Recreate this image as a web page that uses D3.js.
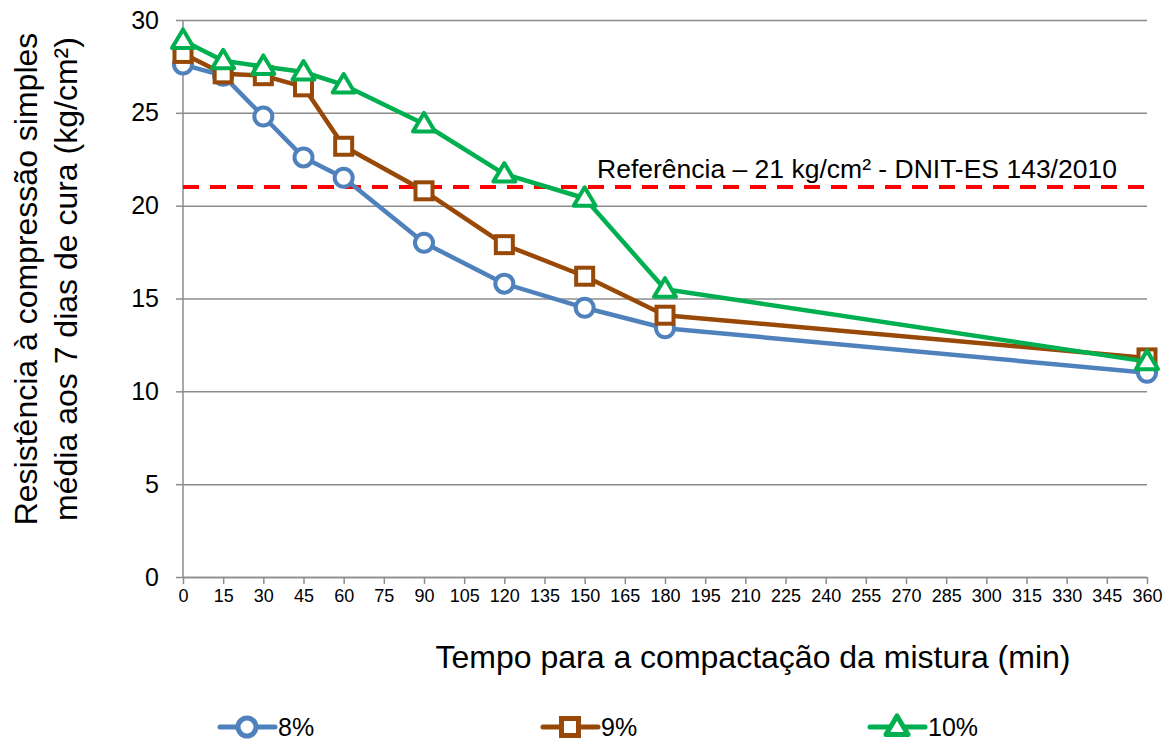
<!DOCTYPE html>
<html>
<head>
<meta charset="utf-8">
<script src="https://cdn.jsdelivr.net/npm/d3@7"></script>
<style>
  body { margin: 0; background: #fff; }
  text { font-family: "Liberation Sans", Arial, sans-serif; fill: #000; }
</style>
</head>
<body>
<div id="wrapper"></div>
<script>
const times = [0, 15, 30, 45, 60, 90, 120, 150, 180, 360];
const values8 = [27.6, 27.0, 24.8, 22.6, 21.5, 18.0, 15.8, 14.5, 13.4, 11.0];
const values9 = [28.2, 27.1, 27.0, 26.4, 23.2, 20.8, 17.9, 16.2, 14.1, 11.8];
const values10 = [28.9, 27.8, 27.5, 27.2, 26.5, 24.4, 21.7, 20.4, 15.5, 11.6];
const seriesNames = ["8%", "9%", "10%"];
const xTicks = d3.range(0, 361, 15);
const yTicks = [0, 5, 10, 15, 20, 25, 30];
const referenceValue = 21;
const referenceLabel = "Referência – 21 kg/cm² - DNIT-ES 143/2010";

function drawChart() {
  let dimensions = {
    width: 1171,
    height: 740,
    margin: { top: 20, right: 24, bottom: 163, left: 183 },
  };
  dimensions.boundedWidth = dimensions.width - dimensions.margin.left - dimensions.margin.right;
  dimensions.boundedHeight = dimensions.height - dimensions.margin.top - dimensions.margin.bottom;

  const wrapper = d3.select("#wrapper")
    .append("svg")
    .attr("width", dimensions.width)
    .attr("height", dimensions.height);

  const bounds = wrapper.append("g")
    .attr("transform", `translate(${dimensions.margin.left},${dimensions.margin.top})`);

  const xScale = d3.scaleLinear()
    .domain([0, 360])
    .range([0, dimensions.boundedWidth]);

  const yScale = d3.scaleLinear()
    .domain([0, 30])
    .range([dimensions.boundedHeight, 0]);

  // gridlines + y axis
  const yAxis = bounds.append("g")
    .call(d3.axisLeft(yScale).tickValues(yTicks).tickSize(7).tickPadding(17))
    .call(g => g.select(".domain").remove());
  yAxis.selectAll(".tick line").attr("stroke", "#8c8c8c").attr("stroke-width", 1.5);
  yAxis.selectAll(".tick text").style("font-size", "25px").attr("font-family", null);
  yAxis.selectAll(".tick").append("line")
    .attr("x1", 0).attr("x2", dimensions.boundedWidth)
    .attr("stroke", "#8c8c8c").attr("stroke-width", 1.5);

  bounds.append("line")
    .attr("x1", 0).attr("x2", 0)
    .attr("y1", 0).attr("y2", dimensions.boundedHeight)
    .attr("stroke", "#8c8c8c").attr("stroke-width", 1.5);

  const xAxis = bounds.append("g")
    .attr("transform", `translate(0,${dimensions.boundedHeight})`)
    .call(d3.axisBottom(xScale).tickValues(xTicks).tickSize(7).tickSizeOuter(0).tickPadding(5));
  xAxis.select(".domain").attr("stroke", "#8c8c8c").attr("stroke-width", 1.5);
  xAxis.selectAll(".tick line").attr("stroke", "#8c8c8c").attr("stroke-width", 1.5);
  xAxis.selectAll(".tick text").style("font-size", "18px").attr("font-family", null);

  // reference line
  bounds.append("line")
    .attr("x1", 0).attr("x2", dimensions.boundedWidth)
    .attr("y1", yScale(referenceValue)).attr("y2", yScale(referenceValue))
    .attr("stroke", "#ff0000").attr("stroke-width", 4)
    .attr("stroke-dasharray", "16 11");
  bounds.append("text")
    .attr("x", 414).attr("y", yScale(referenceValue) - 9)
    .style("font-size", "26.5px")
    .text(referenceLabel);

  const series = [
    { name: seriesNames[0], values: values8, color: "#4f81bd", symbol: "circle" },
    { name: seriesNames[1], values: values9, color: "#984807", symbol: "square" },
    { name: seriesNames[2], values: values10, color: "#00b050", symbol: "triangle" },
  ];

  const lineGenerator = d3.line()
    .x((d, i) => xScale(times[i]))
    .y(d => yScale(d));

  const drawMarker = (g, symbol, color, sw) => {
    if (symbol === "circle") {
      g.append("circle").attr("r", 9)
        .attr("fill", "#fff").attr("stroke", color).attr("stroke-width", sw);
    } else if (symbol === "square") {
      g.append("rect").attr("x", -8.5).attr("y", -8.5).attr("width", 17).attr("height", 17)
        .attr("fill", "#fff").attr("stroke", color).attr("stroke-width", sw);
    } else {
      g.append("path").attr("d", "M0,-11L11,7.5L-11,7.5Z")
        .attr("fill", "#fff").attr("stroke", color).attr("stroke-width", sw)
        .attr("stroke-linejoin", "round");
    }
  };

  series.forEach(s => {
    bounds.append("path")
      .attr("d", lineGenerator(s.values))
      .attr("fill", "none")
      .attr("stroke", s.color)
      .attr("stroke-width", 4.5)
      .attr("stroke-linejoin", "round");
    s.values.forEach((v, i) => {
      const g = bounds.append("g")
        .attr("transform", `translate(${xScale(times[i])},${yScale(v)})`);
      drawMarker(g, s.symbol, s.color, 4);
    });
  });

  // axis titles
  wrapper.append("text")
    .attr("x", 753).attr("y", 668)
    .attr("text-anchor", "middle")
    .style("font-size", "32px")
    .text("Tempo para a compactação da mistura (min)");

  const yTitle = wrapper.append("text")
    .attr("transform", "translate(0,279) rotate(-90)")
    .attr("text-anchor", "middle")
    .style("font-size", "32px");
  yTitle.append("tspan").attr("x", 0).attr("y", 37).text("Resistência à compressão simples");
  yTitle.append("tspan").attr("x", 0).attr("y", 77).text("média aos 7 dias de cura (kg/cm²)");

  // legend
  const legendX = [220, 543, 870];
  series.forEach((s, i) => {
    const g = wrapper.append("g").attr("transform", `translate(${legendX[i]},727)`);
    g.append("line").attr("x1", 0).attr("x2", 55)
      .attr("stroke", s.color).attr("stroke-width", 5).attr("stroke-linecap", "round");
    const m = g.append("g").attr("transform", "translate(27,0)");
    drawMarker(m, s.symbol, s.color, 5);
    g.append("text").attr("x", 58).attr("y", 9).style("font-size", "25px").text(s.name);
  });
}

drawChart();
</script>
</body>
</html>
